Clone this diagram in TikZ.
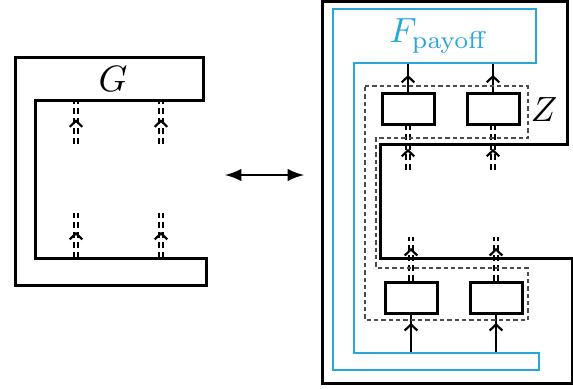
\documentclass[tikz,border=0pt]{standalone}
\usetikzlibrary{arrows.meta,decorations.markings}
\definecolor{payblue}{RGB}{38,166,218}
\tikzset{>=latex}
\tikzset{
  frame/.style={line width=0.9pt},
  payframe/.style={line width=0.7pt,draw=payblue},
  zframe/.style={line width=0.35pt,draw=black!70,dash pattern=on 1.3pt off 0.9pt},
  chan/.style={draw,line width=0.9pt,minimum width=15.6pt,minimum height=9.3pt,inner sep=0pt},
  midtip/.style={postaction={decorate},decoration={markings,
      mark=at position #1 with {\arrow{Straight Barb[length=1.8pt,width=3.8pt,line width=0.65pt]}}}},
  qwire/.style={line width=0.75pt,midtip=#1},
  cwire/.style={line width=0.55pt,double,double distance=0.6pt,dash pattern=on 1.8pt off 1.2pt,midtip=#1},
}

\begin{document}
\begin{tikzpicture}[x=0.3pt,y=-0.3pt]
  \useasboundingbox (0,0) rectangle (573,388);

  % the game G
  \foreach \x [count=\i] in {76,161} {
    \coordinate (gt\i) at (\x,100);
    \coordinate (gu\i) at (\x,144);
    \coordinate (gd\i) at (\x,213);
    \coordinate (gb\i) at (\x,258);
    \draw[cwire=0.56] (gu\i) -- (gt\i);
    \draw[cwire=0.58] (gb\i) -- (gd\i);
  }
  \draw[frame] (15,57) -- (203,57) -- (203,100) -- (35,100) -- (35,258)
    -- (206,258) -- (206,285) -- (15,285) -- cycle;
  \node[scale=1.1] (G) at (113,79) {$G$};

  \coordinate (lhs) at (225,175);
  \coordinate (rhs) at (304,175);
  \draw[<->,line width=0.7pt] (lhs) -- (rhs);

  % G composed with Z and the payoff
  \node[chan] (u1) at (408,109) {};
  \node[chan] (u2) at (493,109) {};
  \node[chan] (l1) at (411,298) {};
  \node[chan] (l2) at (496,298) {};
  \foreach \n/\x in {1/408,2/493} {
    \coordinate (pt\n) at (\x,63);
    \coordinate (ud\n) at (\x,170);
    \draw[qwire=0.59] (u\n.north) -- (pt\n);
    \draw[cwire=0.48] (ud\n) -- (u\n.south);
  }
  \foreach \n/\x in {1/411,2/496} {
    \coordinate (pb\n) at (\x,353);
    \coordinate (lu\n) at (\x,237);
    \draw[qwire=0.79] (pb\n) -- (l\n.south);
    \draw[cwire=0.75] (l\n.north) -- (lu\n);
  }
  \draw[frame] (322,1) -- (567,1) -- (567,144) -- (380,144) -- (380,258)
    -- (572,258) -- (572,383) -- (322,383) -- cycle;
  \draw[payframe] (333,9) -- (536,9) -- (536,63) -- (354,63) -- (354,353)
    -- (539,353) -- (539,370) -- (333,370) -- cycle;
  \node[text=payblue,scale=1.05] (F) at (439,36) {$F_{\mathrm{payoff}}$};
  \draw[zframe] (365,86) -- (528,86) -- (528,138) -- (376,138) -- (376,268)
    -- (528,268) -- (528,320) -- (365,320) -- cycle;
  \node[scale=1.05] (Z) at (544,110) {$Z$};
\end{tikzpicture}
\end{document}
